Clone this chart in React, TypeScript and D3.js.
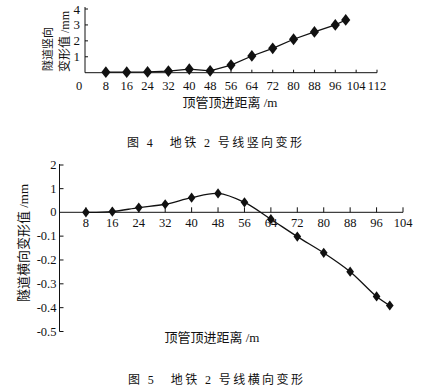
import React from "react";
import * as d3 from "d3";

// 图 4 竖向变形
const vDist = [8, 16, 24, 32, 40, 48, 56, 64, 72, 80, 88, 96, 100];
const vDeform = [0.03, 0.03, 0.05, 0.1, 0.22, 0.12, 0.48, 1.05, 1.53, 2.1, 2.56, 3.0, 3.31];
const vXTicks = [8, 16, 24, 32, 40, 48, 56, 64, 72, 80, 88, 96, 104, 112];
const vYTicks = [1, 2, 3, 4];

// 图 5 横向变形
const hDist = [8, 16, 24, 32, 40, 48, 56, 64, 72, 80, 88, 96, 100];
const hDeform = [0, 0.03, 0.2, 0.34, 0.62, 0.8, 0.42, -0.029, -0.102, -0.17, -0.249, -0.353, -0.391];
const hXTicks = [8, 16, 24, 32, 40, 48, 56, 64, 72, 80, 88, 96, 104];
const hYTicks = [2, 1, 0, -0.1, -0.2, -0.3, -0.4, -0.5];

const W = 427;
const H = 390;
const FONT = "'Liberation Serif', 'Noto Sans CJK SC', serif";
const INK = "#111";

const x1 = d3.scaleLinear().domain([0, 112]).range([85, 377]);
const y1 = d3.scaleLinear().domain([0, 4]).range([72.7, 9]);

const x2 = d3.scaleLinear().domain([0, 104]).range([59.5, 403]);
// 轴上正负半段刻度间距不同
const y2 = d3.scaleLinear().domain([-0.5, 0, 2]).range([331.5, 212.3, 165]);

const diamond = (size) => d3.symbol().type(d3.symbolDiamond).size(size)();

const App = () => {
  const line1 = d3
    .line()
    .x((d) => x1(d[0]))
    .y((d) => y1(d[1]))(vDist.map((d, i) => [d, vDeform[i]]));

  const line2 = d3
    .line()
    .curve(d3.curveCatmullRom.alpha(0.5))
    .x((d) => x2(d[0]))
    .y((d) => y2(d[1]))(hDist.map((d, i) => [d, hDeform[i]]));

  const m1 = diamond(40);
  const m2 = diamond(30);

  return (
    <svg
      width={W}
      height={H}
      style={{ position: "absolute", left: 0, top: 0, background: "#fff" }}
      fontFamily={FONT}
      fill={INK}
    >
      {/* ---- chart 1 ---- */}
      <line x1={x1(0)} x2={x1(0)} y1={7} y2={y1(0)} stroke={INK} />
      <line x1={x1(0)} x2={x1(112)} y1={y1(0)} y2={y1(0)} stroke={INK} />
      {vYTicks.map((t) => (
        <g key={t}>
          <line x1={x1(0)} x2={x1(0) + 3} y1={y1(t)} y2={y1(t)} stroke={INK} />
          <text x={x1(0) - 5} y={y1(t)} textAnchor="end" dominantBaseline="central" fontSize={13}>
            {t}
          </text>
        </g>
      ))}
      {vXTicks.map((t) => (
        <g key={t}>
          <line x1={x1(t)} x2={x1(t)} y1={y1(0)} y2={y1(0) - 3} stroke={INK} />
          <text x={x1(t)} y={90} textAnchor="middle" fontSize={12.5}>
            {t}
          </text>
        </g>
      ))}
      <text x={79} y={90} textAnchor="middle" fontSize={12.5}>
        0
      </text>
      <path d={line1} fill="none" stroke={INK} strokeWidth={1.3} />
      {vDist.map((d, i) => (
        <path key={d} d={m1} transform={`translate(${x1(d)},${y1(vDeform[i])}) scale(1.35,1)`} />
      ))}
      <text transform="translate(48,49) rotate(-90)" textAnchor="middle" dominantBaseline="central" fontSize={11}>
        隧道竖向
      </text>
      <text transform="translate(65,72) rotate(-90)" textAnchor="start" dominantBaseline="central" fontSize={12}>
        变形值 /mm
      </text>
      <text x={230} y={107} textAnchor="middle" fontSize={13}>
        顶管顶进距离 /m
      </text>
      <text x={127} y={147} fontSize={12} textLength={175} lengthAdjust="spacing">
        图 4　地铁 2 号线竖向变形
      </text>

      {/* ---- chart 2 ---- */}
      <line x1={x2(0)} x2={x2(0)} y1={164} y2={y2(-0.5)} stroke={INK} />
      <line x1={x2(0)} x2={x2(104)} y1={y2(0)} y2={y2(0)} stroke={INK} />
      {hYTicks.map((t) => (
        <g key={t}>
          {t !== 0 && <line x1={x2(0)} x2={x2(0) + 4} y1={y2(t)} y2={y2(t)} stroke={INK} />}
          <text x={x2(0) - 3} y={y2(t)} textAnchor="end" dominantBaseline="central" fontSize={12.5}>
            {t}
          </text>
        </g>
      ))}
      {hXTicks.map((t) => (
        <g key={t}>
          <line x1={x2(t)} x2={x2(t)} y1={y2(0)} y2={y2(0) - 5} stroke={INK} />
          <text x={x2(t)} y={227} textAnchor="middle" fontSize={12.5}>
            {t}
          </text>
        </g>
      ))}
      <path d={line2} fill="none" stroke={INK} strokeWidth={1.3} />
      {hDist.map((d, i) => (
        <path key={d} d={m2} transform={`translate(${x2(d)},${y2(hDeform[i])}) scale(1.3,1)`} />
      ))}
      <text transform="translate(23,243) rotate(-90)" textAnchor="middle" dominantBaseline="central" fontSize={13}>
        隧道横向变形值 /mm
      </text>
      <text x={212} y={342} textAnchor="middle" fontSize={13}>
        顶管顶进距离 /m
      </text>
      <text x={128} y={384} fontSize={12} textLength={175} lengthAdjust="spacing">
        图 5　地铁 2 号线横向变形
      </text>
    </svg>
  );
};

export default App;
